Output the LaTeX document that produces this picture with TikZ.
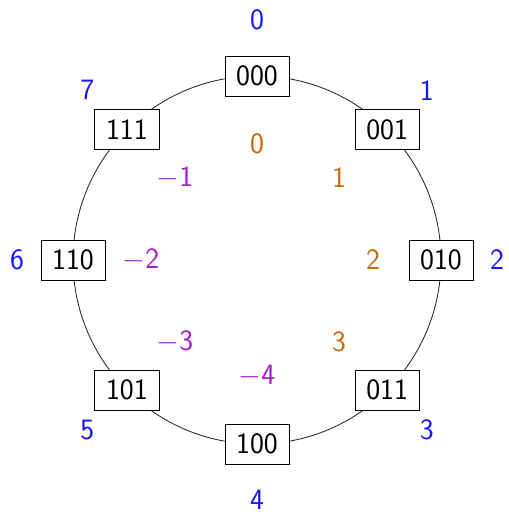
\documentclass[tikz,border=0pt]{standalone}
\usepackage{xcolor}
\definecolor{idxblue}{RGB}{20,20,255}
\definecolor{posorange}{RGB}{204,102,0}
\definecolor{negviolet}{RGB}{165,30,205}

\begin{document}
\begin{tikzpicture}[
    every node/.style={font=\sffamily\fontsize{21}{25}\selectfont},
    state/.style={draw, fill=white, line width=0.6pt, inner xsep=8pt, minimum height=1cm},
  ]
    \def\R{4.6}                            % 圆半径（单位：cm）
    \def\Rout{6.0}                         % 外圈编号半径
    \def\Rin{2.9}                          % 内圈步数半径
    \useasboundingbox (-6.425,-6.375) rectangle (6.275,6.5);

    % 主圆
    \draw[line width=0.6pt, black!85] (0, 0) circle (\R);

    % 圆上的状态框及外圈编号
    \foreach \i/\b in {0/000, 1/001, 2/010, 3/011, 4/100, 5/101, 6/110, 7/111} {
      \node[state] (s\i) at ({90-45*\i}:\R) {\b};
      \node[text=idxblue] (k\i) at ({90-45*\i}:\Rout) {\i};
    }

    % 内圈的正步数
    \foreach \i in {0,...,3}
      \node[text=posorange] (p\i) at ({90-45*\i}:\Rin) {\i};

    % 内圈的负步数
    \foreach \i/\v in {4/4, 5/3, 6/2, 7/1}
      \node[text=negviolet] (m\i) at ({90-45*\i}:\Rin) {$-$\v};
  \end{tikzpicture}
\end{document}
